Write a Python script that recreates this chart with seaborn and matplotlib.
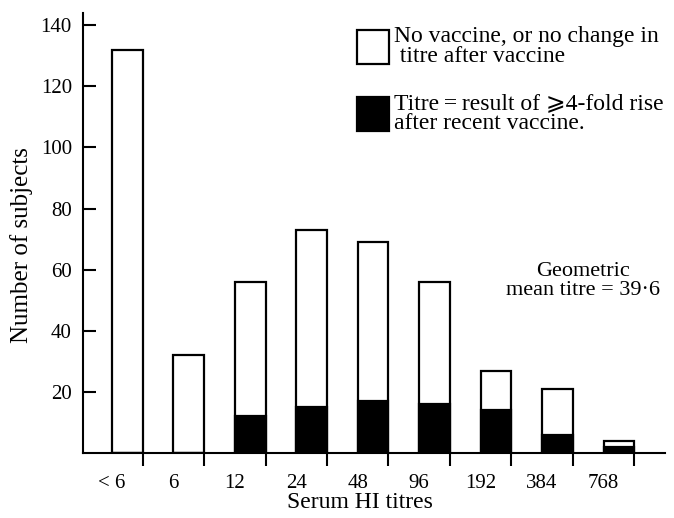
import seaborn as sns
import matplotlib.pyplot as plt
import matplotlib.patches as mpatches
import pandas as pd

# data
titres = ["< 6", "6", "12", "24", "48", "96", "192", "384", "768"]
total = [132, 32, 56, 73, 69, 56, 27, 21, 4]
rise = [0, 0, 12, 15, 17, 16, 14, 6, 2]

df = pd.DataFrame({"titre": titres, "total": total, "rise": rise})
df["left"] = range(len(df))
df["mid"] = df["left"] + 0.25
df["right"] = df["left"] + 0.5

sns.set_style("ticks")
plt.rcParams["font.family"] = ["Liberation Serif", "DejaVu Serif", "DejaVu Sans"]
plt.rcParams["font.size"] = 15
plt.rcParams["text.color"] = "black"
plt.rcParams["axes.labelcolor"] = "black"
plt.rcParams["xtick.color"] = "black"
plt.rcParams["ytick.color"] = "black"
plt.rcParams["axes.edgecolor"] = "black"

fig = plt.figure(figsize=(6.74, 5.18), dpi=100)
ax = fig.add_axes([83 / 674, 65 / 518, 582 / 674, 440 / 518])

# open bars (total), then black part for the 4-fold rise
sns.barplot(data=df, x="mid", y="total", native_scale=True, width=0.5,
            color="white", edgecolor="black", linewidth=1.6, ax=ax)
sns.barplot(data=df, x="mid", y="rise", native_scale=True, width=0.5,
            color="black", edgecolor="black", linewidth=1.6, saturation=1, ax=ax)

ax.set_xlim(-0.47, 9.0)
ax.set_ylim(0, 144)

ax.set_xticks(df["left"])
ax.set_xticklabels(titres)
ax.set_xticks(df["right"], minor=True)
ax.tick_params(axis="x", which="major", length=0, pad=15, labelsize=15)
ax.tick_params(axis="x", which="minor", length=9, width=1.5, direction="out")
ax.set_yticks([20, 40, 60, 80, 100, 120, 140])
ax.tick_params(axis="y", direction="in", length=9.5, width=1.5, pad=8, labelsize=15)

for s in ["top", "right"]:
    ax.spines[s].set_visible(False)
for s in ["left", "bottom"]:
    ax.spines[s].set_linewidth(1.5)

ax.set_xlabel("Serum HI titres", fontsize=17)
ax.set_ylabel("Number of subjects", fontsize=18)
ax.xaxis.set_label_coords(0.476, -0.089)
ax.yaxis.set_label_coords(-0.086, 0.473)

handles = [
    mpatches.Patch(facecolor="white", edgecolor="black", linewidth=1.6),
    mpatches.Patch(facecolor="black", edgecolor="black", linewidth=1.6),
]
labels = ["No vaccine, or no change in\n titre after vaccine",
          "Titre\u2009=\u2009result of \u2a7e4-fold rise\nafter recent vaccine."]
leg = fig.legend(handles, labels, loc="upper left",
                 bbox_to_anchor=(357 / 674, 1 - 26 / 518), frameon=False,
                 handlelength=1.35, handleheight=1.85, handletextpad=0.22,
                 labelspacing=1.08, borderpad=0, borderaxespad=0, fontsize=17)
for t in leg.get_texts():
    t.set_linespacing(0.95)

fig.text(583 / 674, 1 - 281 / 518, "Geometric\nmean titre = 39\u00b76",
         ha="center", va="center", multialignment="center", fontsize=16,
         linespacing=1.0)

fig.savefig("out.png", dpi=100)
